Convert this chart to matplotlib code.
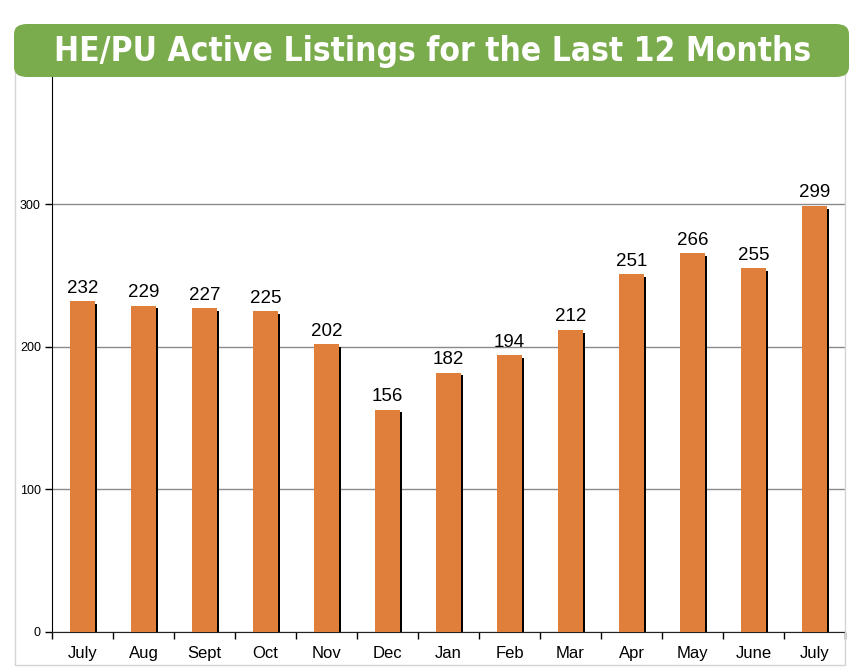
import numpy as np
import matplotlib.pyplot as plt
from matplotlib.patches import FancyBboxPatch, Rectangle

# ---- data ----
months = ['July', 'Aug', 'Sept', 'Oct', 'Nov', 'Dec', 'Jan', 'Feb', 'Mar', 'Apr', 'May', 'June', 'July']
listings = [232, 229, 227, 225, 202, 156, 182, 194, 212, 251, 266, 255, 299]
y_ticks = [0, 100, 200, 300]

TITLE = 'HE/PU Active Listings for the Last 12 Months'
BAR_COLOR = '#e07e3c'
GREEN = '#7aab4c'

plt.rcParams['font.family'] = ['Liberation Sans', 'DejaVu Sans']

W, H = 863, 670
fig = plt.figure(figsize=(W / 100, H / 100), dpi=100)

def fx(px):
    return px / W

def fy(py):
    return 1 - py / H

# light border round the chart
fig.patches.append(Rectangle((fx(15), fy(665)), fx(845 - 15), (665 - 40) / H,
                             transform=fig.transFigure, fill=False,
                             edgecolor='#d4d4d4', linewidth=1, zorder=0))

ax = fig.add_axes([fx(52), fy(632), fx(845 - 52), (632 - 76) / H])
x = np.arange(len(months))
bw = 0.41
# shadow first, then bar on top
ax.bar(x + 0.04, np.array(listings) - 2, width=bw, color='black', zorder=2)
ax.bar(x, listings, width=bw, color=BAR_COLOR, zorder=3)

for xi, v in zip(x, listings):
    ax.text(xi, v + 3, str(v), ha='center', va='bottom', fontsize=13.5, color='black', zorder=4)

ax.set_xlim(-0.5, len(months) - 0.5)
ax.set_ylim(0, 390)
ax.set_yticks(y_ticks)
ax.tick_params(axis='y', labelsize=9, length=5, width=1, direction='out', pad=3)
ax.set_xticks(x)
ax.set_xticklabels(months, fontsize=12)
ax.tick_params(axis='x', length=0, pad=10)
ax.set_xticks(np.arange(-0.5, len(months), 1), minor=True)
ax.tick_params(axis='x', which='minor', length=5, width=1, direction='out')

ax.yaxis.grid(True, color='#8a8a8a', linewidth=1)
ax.set_axisbelow(True)
for side in ['top', 'right']:
    ax.spines[side].set_visible(False)
ax.spines['left'].set_color('black')
ax.spines['bottom'].set_color('#222222')

# green title banner
banner = FancyBboxPatch((fx(14), fy(77)), fx(849 - 14), (77 - 24) / H,
                        boxstyle='round,pad=0,rounding_size=0.015',
                        transform=fig.transFigure, facecolor=GREEN,
                        edgecolor='none', zorder=5)
fig.patches.append(banner)
fig.text(fx(433), fy(51), TITLE, ha='center', va='center', color='white',
         fontsize=24, fontweight='bold', family='DejaVu Sans', fontstretch='condensed', zorder=6)

fig.savefig('out.png', dpi=100)
